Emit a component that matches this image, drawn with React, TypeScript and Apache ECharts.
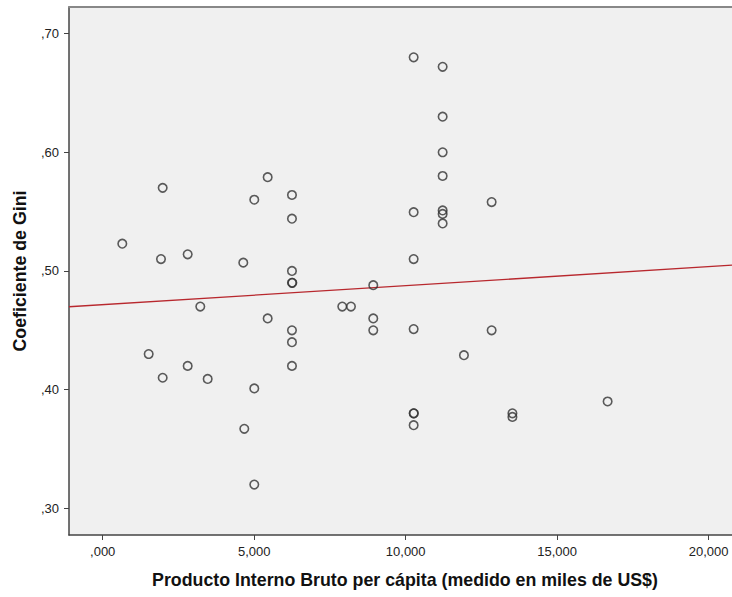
import React, { useEffect, useRef } from "react";
import * as echarts from "echarts";

// GDP per capita (thousands of US$) and Gini coefficient for each country
const gdpPerCapita = [
  0.647, 1.518, 1.924, 1.98, 1.98, 2.805, 2.805, 3.221, 3.465, 4.64, 4.673,
  5.003, 5.003, 5.003, 5.445, 5.445, 6.247, 6.247, 6.247, 6.247, 6.26, 6.247,
  6.247, 6.247, 7.907, 8.194, 8.93, 8.93, 8.93, 10.263, 10.263, 10.263,
  10.263, 10.263, 10.27, 10.263, 11.22, 11.22, 11.22, 11.22, 11.22, 11.22,
  11.22, 11.923, 12.837, 12.837, 13.523, 13.523, 16.665,
];
const giniCoefficient = [
  0.523, 0.43, 0.51, 0.57, 0.41, 0.514, 0.42, 0.47, 0.409, 0.507, 0.367,
  0.56, 0.401, 0.32, 0.579, 0.46, 0.564, 0.544, 0.5, 0.49, 0.49, 0.45,
  0.44, 0.42, 0.47, 0.47, 0.488, 0.46, 0.45, 0.68, 0.5495, 0.51,
  0.451, 0.38, 0.38, 0.37, 0.672, 0.63, 0.6, 0.58, 0.551, 0.548,
  0.54, 0.429, 0.558, 0.45, 0.38, 0.377, 0.39,
];

// Linear fit: gini = intercept + slope * gdp
const fitIntercept = 0.4716;
const fitSlope = 0.0016;

// Axis ranges and tick marks
const xRange = [-1.112, 20.77];
const yRange = [0.2775, 0.7224];
const xTicks = [0, 5, 10, 15, 20];
const yTicks = [0.3, 0.4, 0.5, 0.6, 0.7];

const fmtX = (v: number) => v.toFixed(3).replace(".", ",").replace(/^0,/, ",");
const fmtY = (v: number) => v.toFixed(2).replace(".", ",").replace(/^0,/, ",");

export default function App() {
  const ref = useRef<HTMLDivElement>(null);

  useEffect(() => {
    if (!ref.current) return;
    const chart = echarts.init(ref.current, null, { renderer: "svg" });
    const font = "'Liberation Sans', Arial, sans-serif";
    const points = gdpPerCapita.map((x, i) => [x, giniCoefficient[i]]);
    const fit = xRange.map((x) => [x, fitIntercept + fitSlope * x]);

    chart.setOption({
      animation: false,
      backgroundColor: "#ffffff",
      grid: {
        left: 69,
        right: 0,
        top: 7,
        bottom: 62,
        show: true,
        backgroundColor: "#f0f0f0",
        borderWidth: 0,
      },
      xAxis: [
        {
          type: "value",
          min: xRange[0],
          max: xRange[1],
          splitLine: { show: false },
          axisLine: { show: true, onZero: false, lineStyle: { color: "#444", width: 1.5 } },
          axisTick: {
            show: true,
            length: 5,
            customValues: xTicks,
            lineStyle: { color: "#444", width: 1 },
          },
          axisLabel: {
            customValues: xTicks,
            formatter: fmtX,
            margin: 10,
            color: "#222",
            fontSize: 13,
            fontFamily: font,
          },
          name: "Producto Interno Bruto per cápita (medido en miles de US$)",
          nameLocation: "middle",
          nameGap: 36,
          nameTextStyle: {
            fontSize: 17.8,
            fontWeight: "bold",
            color: "#111",
            fontFamily: font,
            padding: [0, 0, 0, 9],
          },
        },
        {
          type: "value",
          position: "top",
          min: xRange[0],
          max: xRange[1],
          splitLine: { show: false },
          axisLine: { show: true, onZero: false, lineStyle: { color: "#888", width: 2 } },
          axisTick: { show: false },
          axisLabel: { show: false },
        },
      ],
      yAxis: {
        type: "value",
        min: yRange[0],
        max: yRange[1],
        splitLine: { show: false },
        axisLine: { show: true, onZero: false, lineStyle: { color: "#444", width: 1.5 } },
        axisTick: {
          show: true,
          length: 5,
          customValues: yTicks,
          lineStyle: { color: "#444", width: 1 },
        },
        axisLabel: {
          customValues: yTicks,
          formatter: fmtY,
          margin: 10,
          color: "#222",
          fontSize: 13,
          fontFamily: font,
        },
        name: "Coeficiente de Gini",
        nameLocation: "middle",
        nameGap: 40,
        nameTextStyle: {
          fontSize: 17.8,
          fontWeight: "bold",
          color: "#111",
          fontFamily: font,
        },
      },
      series: [
        {
          type: "line",
          data: fit,
          showSymbol: false,
          symbol: "none",
          lineStyle: { color: "#b8282e", width: 1.3 },
          silent: true,
          z: 1,
        },
        {
          type: "scatter",
          data: points,
          symbol: "circle",
          symbolSize: 8.5,
          itemStyle: { color: "none", borderColor: "#333", borderWidth: 1.6 },
          z: 2,
        },
      ],
    });

    return () => chart.dispose();
  }, []);

  return (
    <div
      ref={ref}
      style={{ position: "fixed", left: 0, top: 0, width: 732, height: 597 }}
    />
  );
}
